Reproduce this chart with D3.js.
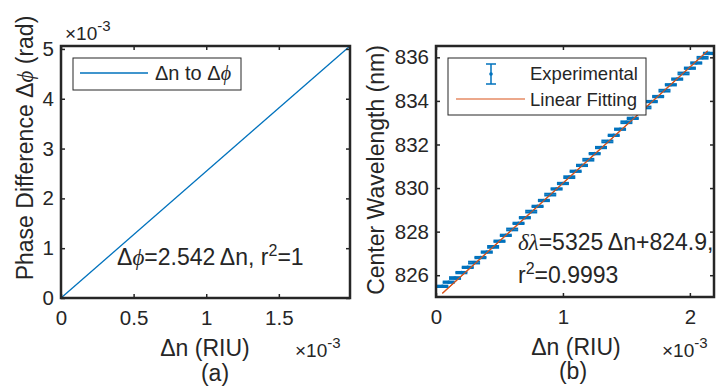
<!DOCTYPE html>
<html>
<head>
<meta charset="utf-8">
<script src="https://cdn.jsdelivr.net/npm/d3@7"></script>
<style>
  body { margin: 0; background: #fff; }
  text { font-family: "Liberation Sans", Arial, sans-serif; fill: #262626; }
  .sym { font-family: "Liberation Serif", "DejaVu Serif", serif; font-style: italic; }
</style>
</head>
<body>
<script>
// panel (a): delta n -> delta phi
const dnA = [0, 0.00199];
const dphiA = [0, 0.005059];
const ticksAx = [0, 0.0005, 0.001, 0.0015];
const ticksAy = [0, 0.001, 0.002, 0.003, 0.004, 0.005];

// panel (b): center wavelength vs delta n (x in RIU, y in nm)
const dnB = [0.00005, 0.0001, 0.00015, 0.0002, 0.00025, 0.0003, 0.00035, 0.0004, 0.00045, 0.0005,
  0.00055, 0.0006, 0.00065, 0.0007, 0.00075, 0.0008, 0.00085, 0.0009, 0.00095, 0.001,
  0.00105, 0.0011, 0.00115, 0.0012, 0.00125, 0.0013, 0.00135, 0.0014, 0.00145, 0.0015,
  0.00155, 0.0016, 0.00165, 0.0017, 0.00175, 0.0018, 0.00185, 0.0019, 0.00195, 0.002,
  0.00205, 0.0021, 0.00215];
const lambdaB = [825.49, 825.68, 825.87, 826.12, 826.36, 826.58, 826.81, 827.06, 827.30, 827.56,
  827.83, 828.10, 828.38, 828.64, 828.92, 829.16, 829.43, 829.70, 829.96, 830.21,
  830.50, 830.77, 831.04, 831.30, 831.58, 831.86, 832.14, 832.42, 832.70, 833.02,
  833.20, 833.45, 833.70, 833.97, 834.20, 834.47, 834.74, 835.00, 835.26, 835.50,
  835.74, 835.98, 836.18];
const errB = [0.03, 0.03, 0.04, 0.03, 0.03, 0.04, 0.03, 0.03, 0.04, 0.03,
  0.03, 0.04, 0.03, 0.03, 0.04, 0.03, 0.03, 0.04, 0.03, 0.03,
  0.04, 0.03, 0.03, 0.04, 0.03, 0.03, 0.04, 0.03, 0.03, 0.04,
  0.03, 0.03, 0.04, 0.03, 0.03, 0.04, 0.03, 0.03, 0.04, 0.03,
  0.03, 0.04, 0.03];
const fitX = [0.00005, 0.00214];
const fitY = [825.166, 836.296];
const ticksBx = [0, 0.001, 0.002];
const ticksBy = [826, 828, 830, 832, 834, 836];

const W = 717, H = 388;
const axisColor = '#262626';
const blue = '#0072BD';
const orange = '#D95319';

const svg = d3.select('body').append('svg')
  .attr('width', W)
  .attr('height', H);
svg.append('rect').attr('width', W).attr('height', H).attr('fill', '#fff');

const fmt = d => d3.format('~g')(+(d * 1000).toFixed(4));

function frame(g, x, y, xt, yt, yfmt) {
  const [x0, x1] = x.range();
  const [y0, y1] = y.range();
  const tl = 4;
  g.append('g').attr('transform', `translate(0,${y0})`)
    .call(d3.axisBottom(x).tickValues(xt).tickSize(-tl).tickPadding(12).tickFormat(fmt));
  g.append('g').attr('transform', `translate(0,${y1})`)
    .call(d3.axisTop(x).tickValues(xt).tickSize(-tl).tickFormat(''));
  g.append('g').attr('transform', `translate(${x0},0)`)
    .call(d3.axisLeft(y).tickValues(yt).tickSize(-tl).tickPadding(7).tickFormat(yfmt));
  g.append('g').attr('transform', `translate(${x1},0)`)
    .call(d3.axisRight(y).tickValues(yt).tickSize(-tl).tickFormat(''));
  g.selectAll('.domain').remove();
  g.selectAll('.tick line').attr('stroke', axisColor).attr('stroke-width', 1.5);
  g.selectAll('.tick text').attr('fill', axisColor).style('font-size', '20.5px')
    .style('font-family', '"Liberation Sans", Arial, sans-serif');
  g.append('rect')
    .attr('x', x0).attr('y', y1)
    .attr('width', x1 - x0).attr('height', y0 - y1)
    .attr('fill', 'none').attr('stroke', axisColor).attr('stroke-width', 2.5);
}

function expLabel(x, y) {
  const t = svg.append('text').attr('x', x).attr('y', y).style('font-size', '19px');
  t.append('tspan').text('\u00d710');
  t.append('tspan').attr('dy', -9).style('font-size', '15px').text('-3');
}

// ---------- panel (a)
const xA = d3.scaleLinear().domain([0, 0.00199]).range([61, 350]);
const yA = d3.scaleLinear().domain([0, 0.005059]).range([298, 46]);
const gA = svg.append('g');

gA.append('path')
  .datum(d3.zip(dnA, dphiA))
  .attr('d', d3.line().x(d => xA(d[0])).y(d => yA(d[1])))
  .attr('fill', 'none').attr('stroke', blue).attr('stroke-width', 1.3);

frame(gA, xA, yA, ticksAx, ticksAy, fmt);

expLabel(65, 40);
expLabel(295, 357);

svg.append('text').attr('x', 205).attr('y', 356).attr('text-anchor', 'middle')
  .style('font-size', '23px').text('\u0394n (RIU)');
svg.append('text').attr('x', 215).attr('y', 381).attr('text-anchor', 'middle')
  .style('font-size', '23px').text('(a)');

const ylA = svg.append('text')
  .attr('transform', 'translate(33,148) rotate(-90)')
  .attr('text-anchor', 'middle').style('font-size', '23px');
ylA.append('tspan').text('Phase Difference \u0394');
ylA.append('tspan').attr('class', 'sym').text('\u03d5');
ylA.append('tspan').text(' (rad)');

const annA = svg.append('text').attr('x', 117).attr('y', 265)
  .style('font-size', '23px').attr('fill', '#000');
annA.append('tspan').text('\u0394');
annA.append('tspan').attr('class', 'sym').text('\u03d5');
annA.append('tspan').text('=2.542\u2009\u0394n, r');
annA.append('tspan').attr('dy', -9).style('font-size', '16px').text('2');
annA.append('tspan').attr('dy', 9).text('=1');

// legend (a)
svg.append('rect').attr('x', 73).attr('y', 58).attr('width', 168).attr('height', 32)
  .attr('fill', '#fff').attr('stroke', axisColor).attr('stroke-width', 1);
svg.append('line').attr('x1', 80).attr('x2', 148).attr('y1', 73).attr('y2', 73)
  .attr('stroke', blue).attr('stroke-width', 1.3);
const legA = svg.append('text').attr('x', 155).attr('y', 80).style('font-size', '20px')
  .attr('fill', '#000');
legA.append('tspan').text('\u0394n to \u0394');
legA.append('tspan').attr('class', 'sym').text('\u03d5');

// ---------- panel (b)
const xB = d3.scaleLinear().domain([0, 0.00219]).range([436, 714]);
const yB = d3.scaleLinear().domain([825, 836.52]).range([297, 46]);
const gB = svg.append('g');

gB.append('path')
  .datum(d3.zip(fitX, fitY))
  .attr('d', d3.line().x(d => xB(d[0])).y(d => yB(d[1])))
  .attr('fill', 'none').attr('stroke', orange).attr('stroke-width', 1.2);

const pts = d3.zip(dnB, lambdaB, errB);
const eb = gB.append('g').selectAll('g').data(pts).join('g')
  .attr('stroke', blue).attr('stroke-width', 2);
const cap = 6;
eb.append('line')
  .attr('x1', d => xB(d[0])).attr('x2', d => xB(d[0]))
  .attr('y1', d => yB(d[1] - d[2])).attr('y2', d => yB(d[1] + d[2]));
eb.append('line')
  .attr('x1', d => xB(d[0]) - cap).attr('x2', d => xB(d[0]) + cap)
  .attr('y1', d => yB(d[1] - d[2])).attr('y2', d => yB(d[1] - d[2]));
eb.append('line')
  .attr('x1', d => xB(d[0]) - cap).attr('x2', d => xB(d[0]) + cap)
  .attr('y1', d => yB(d[1] + d[2])).attr('y2', d => yB(d[1] + d[2]));
eb.append('circle')
  .attr('cx', d => xB(d[0])).attr('cy', d => yB(d[1])).attr('r', 1.8)
  .attr('fill', blue).attr('stroke', 'none');

// fit drawn on top so it crosses the markers like the original
gB.append('path')
  .datum(d3.zip(fitX, fitY))
  .attr('d', d3.line().x(d => xB(d[0])).y(d => yB(d[1])))
  .attr('fill', 'none').attr('stroke', orange).attr('stroke-width', 1.1);

frame(gB, xB, yB, ticksBx, ticksBy, d => d);

expLabel(662, 357);

svg.append('text').attr('x', 576).attr('y', 355).attr('text-anchor', 'middle')
  .style('font-size', '23px').text('\u0394n (RIU)');
svg.append('text').attr('x', 573).attr('y', 379).attr('text-anchor', 'middle')
  .style('font-size', '23px').text('(b)');

svg.append('text')
  .attr('transform', 'translate(384,170) rotate(-90)')
  .attr('text-anchor', 'middle').style('font-size', '23px')
  .text('Center Wavelength (nm)');

const annB = svg.append('text').attr('x', 518).attr('y', 250)
  .style('font-size', '23px').attr('fill', '#000');
annB.append('tspan').attr('class', 'sym').text('\u03b4\u03bb');
annB.append('tspan').text('=5325\u2009\u0394n+824.9,');
const annB2 = svg.append('text').attr('x', 518).attr('y', 283)
  .style('font-size', '23px').attr('fill', '#000');
annB2.append('tspan').text('r');
annB2.append('tspan').attr('dy', -9).style('font-size', '16px').text('2');
annB2.append('tspan').attr('dy', 9).text('=0.9993');

// legend (b)
svg.append('rect').attr('x', 448).attr('y', 58).attr('width', 198).attr('height', 57)
  .attr('fill', '#fff').attr('stroke', axisColor).attr('stroke-width', 1);
const lg = svg.append('g').attr('stroke', blue).attr('stroke-width', 1.5);
lg.append('line').attr('x1', 491).attr('x2', 491).attr('y1', 64).attr('y2', 84);
lg.append('line').attr('x1', 486).attr('x2', 496).attr('y1', 64).attr('y2', 64);
lg.append('line').attr('x1', 486).attr('x2', 496).attr('y1', 84).attr('y2', 84);
svg.append('circle').attr('cx', 491).attr('cy', 74).attr('r', 1.8).attr('fill', blue);
svg.append('line').attr('x1', 456).attr('x2', 525).attr('y1', 99).attr('y2', 99)
  .attr('stroke', orange).attr('stroke-width', 1.2);
svg.append('text').attr('x', 530).attr('y', 80).style('font-size', '18.5px').attr('fill', '#000')
  .text('Experimental');
svg.append('text').attr('x', 530).attr('y', 106).style('font-size', '18.5px').attr('fill', '#000')
  .text('Linear Fitting');
</script>
</body>
</html>
